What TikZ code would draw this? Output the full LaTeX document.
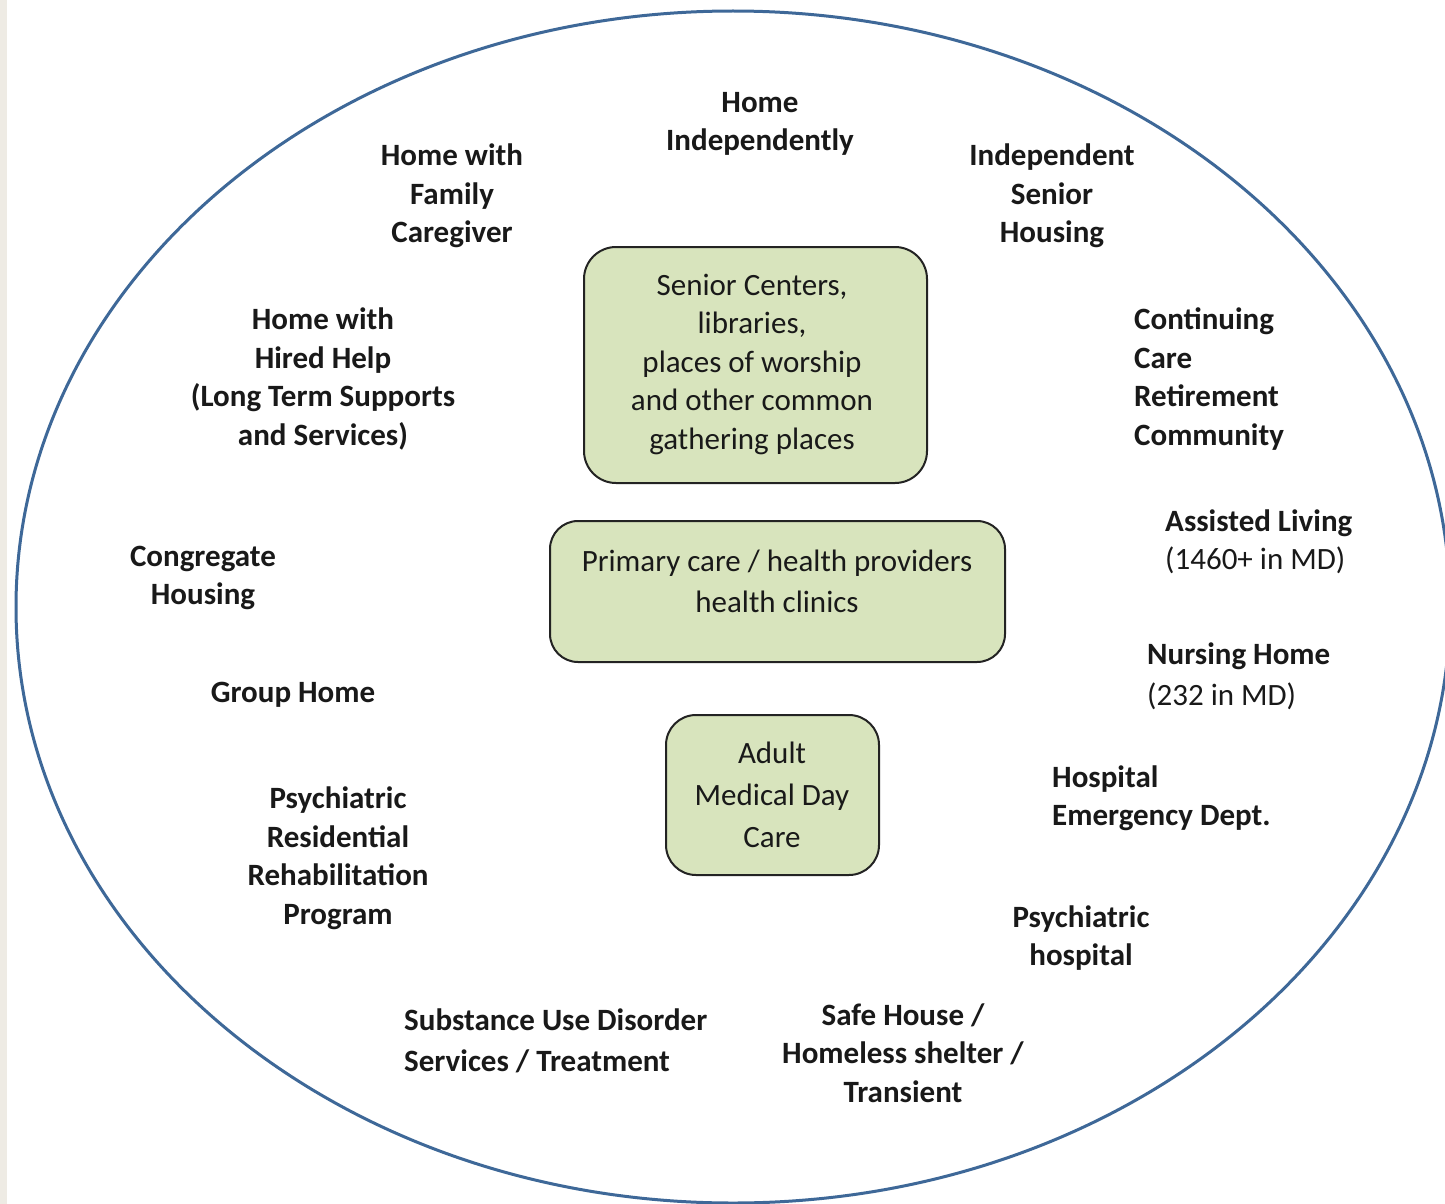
\documentclass[tikz,border=0pt]{standalone}
\usepackage{fontspec}
\setmainfont{Carlito}
\definecolor{ringblue}{RGB}{62,104,152}
\definecolor{boxgreen}{RGB}{216,228,189}
\definecolor{boxedge}{RGB}{35,35,35}
\definecolor{strip}{RGB}{238,235,228}
\definecolor{ink}{RGB}{25,25,25}
\begin{document}
\begin{tikzpicture}[x=1pt,y=-1pt,
  lbl/.style={inner sep=0pt,align=center,text=ink,font=\fontsize{31}{38.5}\selectfont\bfseries},
  lbll/.style={lbl,align=left,anchor=west},
  gbox/.style={draw=boxedge,line width=2pt,fill=boxgreen,rounded corners=32pt,inner sep=0pt},
  btext/.style={inner sep=0pt,align=center,text=ink,font=\fontsize{31}{38.5}\selectfont}
]
\useasboundingbox (0,0) rectangle (1445,1204);
\fill[white] (0,0) rectangle (1445,1204);
\fill[strip] (0,0) rectangle (7,1204);
\draw[ringblue,line width=3pt] (733,607) ellipse [x radius=717pt, y radius=596pt];

% central boxes
\node[gbox,minimum width=343pt,minimum height=236pt] (sc) at (755.5,365) {};
\node[btext] (sct) at (752,364) {Senior Centers,\\libraries,\\places of worship\\and other common\\gathering places};
\node[gbox,minimum width=455pt,minimum height=141pt,rounded corners=28pt] (pc) at (777.5,591.5) {};
\node[btext,font=\fontsize{31}{41}\selectfont] (pct) at (777,581) {Primary care / health providers\\health clinics};
\node[gbox,minimum width=213pt,minimum height=160pt,rounded corners=30pt] (am) at (772.5,795) {};
\node[btext,font=\fontsize{31}{42}\selectfont] (amt) at (772,795) {Adult\\Medical Day\\Care};

% surrounding labels
\node[lbl] (hi) at (760,124) {Home\\Independently};
\node[lbl] (hf) at (452,196) {Home with\\Family\\Caregiver};
\node[lbl] (is) at (1052,196) {Independent\\Senior\\Housing};
\node[lbl] (hh) at (323,379) {Home with\\Hired Help\\(Long Term Supports\\and Services)};
\node[lbll] (cc) at (1134,379) {Continuing\\Care\\Retirement\\Community};
\node[lbl] (ch) at (203,578) {Congregate\\Housing};
\node[lbll] (al) at (1165,542) {Assisted Living\\{\mdseries(1460+ in MD)}};
\node[lbl] (gh) at (293,695) {Group Home};
\node[lbll,font=\fontsize{31}{41}\selectfont\bfseries] (nh) at (1147,676) {Nursing Home\\{\mdseries(232 in MD)}};
\node[lbll] (he) at (1052,798) {Hospital\\Emergency Dept.};
\node[lbl] (pr) at (338,858) {Psychiatric\\Residential\\Rehabilitation\\Program};
\node[lbl] (ph) at (1081,938) {Psychiatric\\hospital};
\node[lbll,font=\fontsize{31}{40.5}\selectfont\bfseries] (su) at (404,1041) {Substance Use Disorder\\Services / Treatment};
\node[lbl] (sh) at (903,1053) {Safe House /\\Homeless shelter /\\Transient};
\end{tikzpicture}
\end{document}
